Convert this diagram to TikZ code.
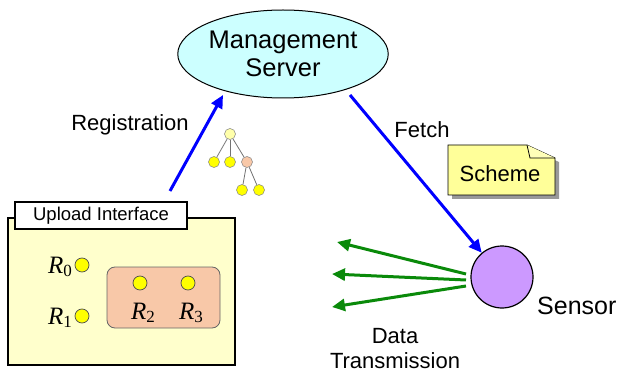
\documentclass[tikz,border=0pt]{standalone}
\usepackage{fontspec}
\setmainfont{Liberation Sans}
\newfontfamily\rmlab{Liberation Serif}
\usetikzlibrary{arrows.meta,shapes.geometric}
\definecolor{srvfill}{HTML}{CCFFFF}
\definecolor{notefill}{HTML}{FFFF99}
\definecolor{folderfill}{HTML}{FFFFCC}
\definecolor{groupfill}{HTML}{F8C8A8}
\definecolor{sensorfill}{HTML}{CC99FF}
\definecolor{dotfill}{HTML}{FFFF00}
\definecolor{rootfill}{HTML}{FFFFAA}
\definecolor{flowgreen}{HTML}{0A8A0A}
\newcommand\rlab[1]{{\rmlab\itshape R}\raisebox{-2.5pt}{\rmlab\fontsize{17}{17}\selectfont #1}}
\tikzset{
  lbl/.style={font=\fontsize{22}{24}\selectfont, align=center, inner sep=0pt},
  dot/.style={circle, draw=black!70, fill=dotfill, minimum size=14pt, inner sep=0pt, line width=0.7pt},
  tdot/.style={circle, draw=black!50, fill=dotfill, minimum size=11pt, inner sep=0pt, line width=0.5pt},
  rl/.style={font=\fontsize{25}{25}\selectfont, inner sep=0pt},
  bluearrow/.style={draw=blue, line width=3pt, -{Triangle[length=13pt,width=12pt]}},
  greenarrow/.style={draw=flowgreen, line width=3pt, -{Triangle[length=13pt,width=12pt]}},
  treeedge/.style={draw=black!55, line width=0.8pt}
}
\begin{document}
\begin{tikzpicture}[x=1pt,y=-1pt]
\useasboundingbox (0,0) rectangle (621,374);

% management server
\node[ellipse, draw=black, line width=1pt, fill=srvfill, minimum width=204pt, minimum height=88pt,
      font=\fontsize{25.5}{28}\selectfont, align=center, inner sep=0pt] (srv) at (283,54) {Management\\Server};

% upload interface folder
\draw[line width=1.2pt, fill=folderfill] (8,218) rectangle (235,365);
\node[draw=black, line width=1.2pt, fill=white, minimum width=172pt, minimum height=27pt, inner sep=0pt,
      font=\fontsize{18.5}{18.5}\selectfont] (tab) at (101,215.5) {Upload Interface};
\node[draw=black!60, line width=0.8pt, fill=groupfill, rounded corners=8pt,
      minimum width=113pt, minimum height=61pt] (grp) at (163.5,297.5) {};

\node[dot] (r0) at (82,265) {};
\node[dot] (r1) at (82,316) {};
\node[dot] (r2) at (140,283) {};
\node[dot] (r3) at (188,283) {};
\node[rl, anchor=east] (l0) at (72,267) {\rlab{0}};
\node[rl, anchor=east] (l1) at (72,318) {\rlab{1}};
\node[rl] (l2) at (143,313) {\rlab{2}};
\node[rl] (l3) at (191,313) {\rlab{3}};

% small tree
\node[tdot, fill=rootfill] (t0) at (230,134) {};
\node[tdot] (t1) at (214,162) {};
\node[tdot] (t2) at (230,162) {};
\node[tdot, fill=groupfill] (t3) at (247,162) {};
\node[tdot] (t4) at (242,190) {};
\node[tdot] (t5) at (259,190) {};
\draw[treeedge] (t0) -- (t1);
\draw[treeedge] (t0) -- (t2);
\draw[treeedge] (t0) -- (t3);
\draw[treeedge] (t3) -- (t4);
\draw[treeedge] (t3) -- (t5);

% registration
\coordinate (regstart) at (170,191);
\coordinate (regend) at (223,95);
\draw[bluearrow] (regstart) -- (regend);
\node[lbl] (reg) at (130,125) {Registration};

% sensor
\node[circle, draw=black, line width=1.2pt, fill=sensorfill, minimum size=62pt, inner sep=0pt] (sensor) at (502,277) {};
\node[lbl, font=\fontsize{25}{25}\selectfont, anchor=west] (sensorlbl) at (537,306) {Sensor};

% fetch
\coordinate (fetchstart) at (350,95);
\draw[bluearrow] (fetchstart) -- (sensor);
\node[lbl] (fetch) at (422,130) {Fetch};

% scheme note
\fill[black!40] (452,149) -- (530,149) -- (559,162) -- (559,199) -- (452,199) -- cycle;
\draw[line width=0.8pt, fill=notefill] (448,145) -- (527,145) -- (555,158) -- (555,195) -- (448,195) -- cycle;
\draw[line width=0.8pt, fill=notefill!70!white] (527,145) -- (530,158) -- (555,158);
\node[lbl] (scheme) at (500,174) {Scheme};

% data transmission
\coordinate (d1) at (337,242);
\coordinate (d2) at (332,274);
\coordinate (d3) at (332,307);
\coordinate (s1) at (466,274);
\coordinate (s2) at (466,280);
\coordinate (s3) at (466,286);
\draw[greenarrow] (s1) -- (d1);
\draw[greenarrow] (s2) -- (d2);
\draw[greenarrow] (s3) -- (d3);
\node[lbl] (dt) at (395,349) {Data\\[1pt]Transmission};
\end{tikzpicture}
\end{document}
